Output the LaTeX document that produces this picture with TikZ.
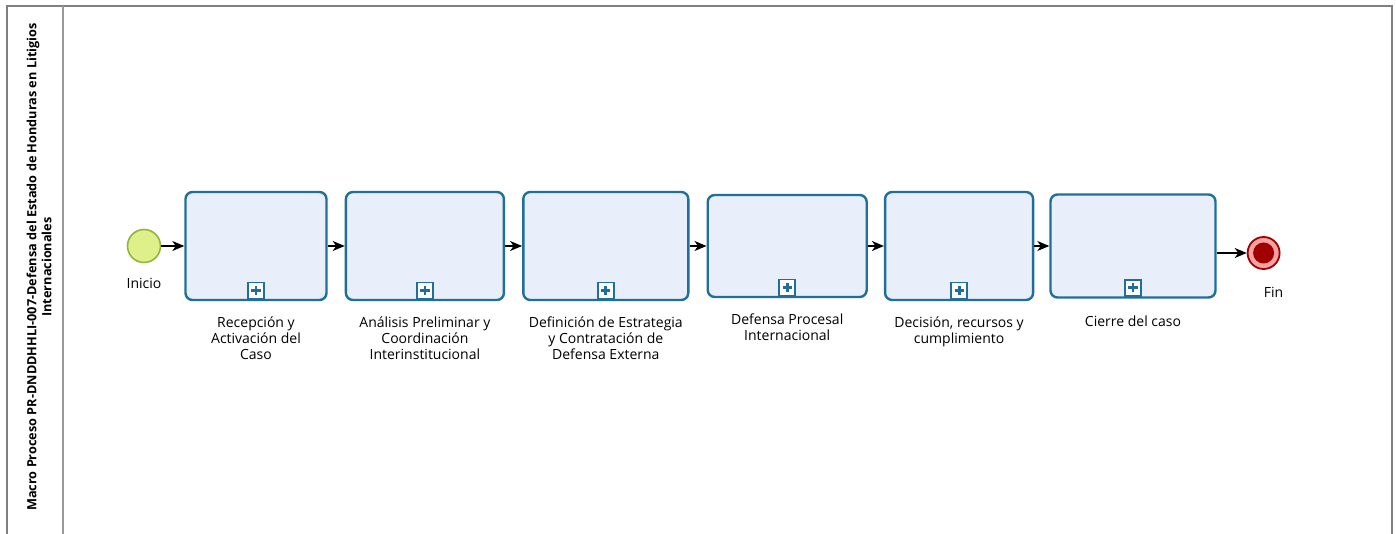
\documentclass[tikz,border=0pt]{standalone}
\usepackage{fontspec}
\setmainfont{Open Sans}
\usetikzlibrary{arrows.meta, positioning}
\definecolor{TaskLine}{RGB}{31,111,153}
\definecolor{TaskFill}{RGB}{233,238,251}
\definecolor{StartFill}{RGB}{221,240,138}
\definecolor{StartLine}{RGB}{146,180,60}
\definecolor{EndRing}{RGB}{245,162,162}
\definecolor{EndLine}{RGB}{160,0,0}
\definecolor{PoolLine}{RGB}{128,128,128}

\begin{document}
\begin{tikzpicture}[
    x=1pt, y=1pt,
    node distance=17pt,
    task/.style={rectangle, draw=TaskLine, fill=TaskFill, line width=2.4pt,
                 rounded corners=7pt, minimum width=150pt, minimum height=108pt},
    plusmk/.style={rectangle, draw=TaskLine, fill=white, line width=1.6pt,
                   minimum size=16pt, inner sep=0pt, anchor=south,
                   path picture={\draw[TaskLine, line width=2.8pt]
                     ([xshift=-4.6pt]path picture bounding box.center) -- ([xshift=4.6pt]path picture bounding box.center)
                     ([yshift=-4.6pt]path picture bounding box.center) -- ([yshift=4.6pt]path picture bounding box.center);}},
    startev/.style={circle, draw=StartLine, fill=StartFill, line width=1.6pt,
                    minimum size=33pt, inner sep=0pt},
    endev/.style={circle, draw=EndLine, fill=EndRing, line width=1.8pt,
                  minimum size=32pt, inner sep=0pt},
    endcore/.style={circle, fill=EndLine, minimum size=21pt, inner sep=0pt},
    lbl/.style={align=center, inner sep=0pt, font=\fontsize{14}{16}\selectfont},
    title/.style={align=center, inner sep=0pt, font=\fontsize{12.7}{15}\selectfont\bfseries},
    arr/.style={-{Stealth[length=12pt, width=10pt, inset=3.5pt]}, line width=1.3pt, black}
]
\useasboundingbox (0,0) rectangle (1396,-534);

% pool
\draw[PoolLine, line width=2pt] (7,-534) -- (7,-6) -- (1392,-6) -- (1392,-534);
\draw[PoolLine!80, line width=1.6pt] (63,-6) -- (63,-534);
\node[title, rotate=90] (macro) at (39,-267)
  {Macro Proceso PR-DNDDHHLI-007-Defensa del Estado de Honduras en Litigios\\ Internacionales};

% events and tasks
\node[startev] (inicio) at (144,-246) {};
\node[task, minimum width=141pt, right=23pt of inicio] (rec) {};
\node[task, minimum width=158pt, right=of rec]  (ana) {};
\node[task, minimum width=165pt, right=of ana]  (def) {};
\node[task, minimum width=159pt, minimum height=102pt, right=of def] (proc) {};
\node[task, minimum width=148pt, right=16pt of proc] (dec) {};
\node[task, minimum width=165pt, minimum height=103pt, right=15pt of dec] (cie) {};
\node[endev, right=30pt of cie, yshift=-7pt] (fin) {};
\node[endcore] (fin-c) at (fin) {};

% collapsed markers
\foreach \t in {rec, ana, def, proc, dec, cie}
  \node[plusmk] (\t-m) at ([yshift=2pt]\t.south) {};

% labels
\node[lbl, below=15pt of inicio] (inicio-t) {Inicio};
\node[lbl, below=17pt of fin, xshift=10pt] (fin-t) {Fin};
\node[lbl, below=15pt of rec]  (rec-t)  {Recepción y\\ Activación del\\ Caso};
\node[lbl, below=15pt of ana]  (ana-t)  {Análisis Preliminar y\\ Coordinación\\ Interinstitucional};
\node[lbl, below=15pt of def]  (def-t)  {Definición de Estrategia\\ y Contratación de\\ Defensa Externa};
\node[lbl, below=15pt of proc] (proc-t) {Defensa Procesal\\ Internacional};
\node[lbl, below=15pt of dec]  (dec-t)  {Decisión, recursos y\\ cumplimiento};
\node[lbl, below=17pt of cie]  (cie-t)  {Cierre del caso};

% flows
\draw[arr] (inicio) -- (rec);
\draw[arr] (rec)  -- (ana);
\draw[arr] (ana)  -- (def);
\draw[arr] (def)  -- (proc);
\draw[arr] (proc) -- (dec);
\draw[arr] (dec)  -- (cie);
\draw[arr] (cie.east |- fin) -- (fin);
\end{tikzpicture}
\end{document}
